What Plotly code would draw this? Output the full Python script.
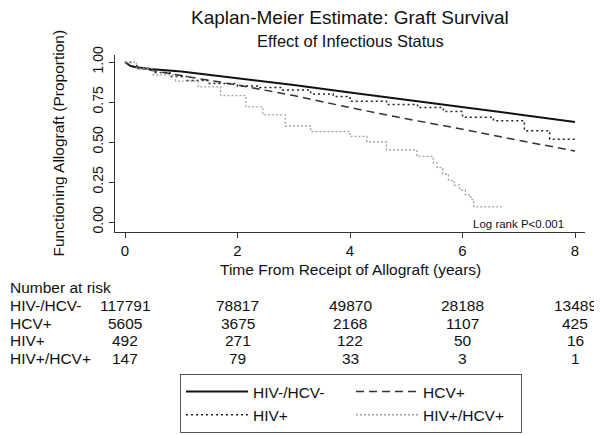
import plotly.graph_objects as go

# ---- data ----
groups = ["HIV-/HCV-", "HCV+", "HIV+", "HIV+/HCV+"]

t_neg = [0, 0.05, 0.1, 0.2, 0.5, 1, 2, 3, 4, 5, 6, 7, 8]
s_neg = [1.0, 0.985, 0.975, 0.967, 0.955, 0.94, 0.90, 0.856, 0.81, 0.765, 0.718, 0.672, 0.625]

t_hcv = [0, 0.1, 0.25, 0.5, 1, 1.5, 2, 3, 4, 5, 6, 7, 8]
s_hcv = [1.0, 0.975, 0.962, 0.945, 0.915, 0.885, 0.856, 0.79, 0.715, 0.645, 0.58, 0.51, 0.444]

t_hiv = [0, 0.1, 0.25, 0.5, 0.8, 1.1, 1.5, 2.0, 2.4, 2.8, 3.3, 3.7, 4.0, 4.65, 5.2, 5.66, 6.0, 6.55, 7.1, 7.55, 8.0]
s_hiv = [1.0, 0.975, 0.958, 0.935, 0.91, 0.885, 0.865, 0.85, 0.84, 0.825, 0.80, 0.785, 0.755, 0.735, 0.715, 0.69, 0.655, 0.633, 0.57, 0.517, 0.517]

t_coinf = [0, 0.2, 0.5, 0.9, 1.3, 1.7, 2.15, 2.45, 2.85, 3.3, 4.0, 4.3, 4.65, 5.19, 5.48, 5.55, 5.65, 5.75, 5.85, 5.95, 6.05, 6.15, 6.2, 6.7]
s_coinf = [1.0, 0.96, 0.92, 0.88, 0.845, 0.79, 0.72, 0.67, 0.60, 0.565, 0.535, 0.50, 0.45, 0.41, 0.37, 0.34, 0.30, 0.26, 0.23, 0.20, 0.17, 0.14, 0.095, 0.095]

risk_times = [0, 2, 4, 6, 8]
risk_neg = [117791, 78817, 49870, 28188, 13489]
risk_hcv = [5605, 3675, 2168, 1107, 425]
risk_hiv = [492, 271, 122, 50, 16]
risk_coinf = [147, 79, 33, 3, 1]

x_ticks = [0, 2, 4, 6, 8]
y_ticks = [0, 0.25, 0.5, 0.75, 1.0]
y_ticktext = ["0.00", "0.25", "0.50", "0.75", "1.00"]

title = "Kaplan-Meier Estimate: Graft Survival"
subtitle = "Effect of Infectious Status"
x_title = "Time From Receipt of Allograft (years)"
y_title = "Functioning Allograft (Proportion)"
note = "Log rank P<0.001"

# ---- figure ----
# The page body adds an 8px margin, so the figure is 8px smaller than the window
FONT = "Liberation Sans, Arial, Helvetica, sans-serif"
OFF = 8
W, H = 602 - OFF, 435 - OFF
PLOT_L, PLOT_R, PLOT_T, PLOT_B = 115, 585, 55, 232   # page pixels
L, T = PLOT_L - OFF, PLOT_T - OFF
R, B = W - (PLOT_R - OFF), H - (PLOT_B - OFF)


def py(pix):
    """page pixel row -> paper y"""
    return (PLOT_B - pix) / (PLOT_B - PLOT_T)


def px(pix):
    """page pixel column -> paper x"""
    return (pix - PLOT_L) / (PLOT_R - PLOT_L)


fig = go.Figure()

series = [
    (t_neg, s_neg, groups[0], dict(color="#111111", width=2.0), "linear"),
    (t_hcv, s_hcv, groups[1], dict(color="#333333", width=1.5, dash="8px,5px"), "linear"),
    (t_hiv, s_hiv, groups[2], dict(color="#222222", width=1.5, dash="2px,3px"), "hv"),
    (t_coinf, s_coinf, groups[3], dict(color="#a0a0a0", width=1.3, dash="2px,2px"), "hv"),
]
for t, s, name, line, shape in series:
    line = dict(line)
    line["shape"] = shape
    fig.add_trace(go.Scatter(x=t, y=s, mode="lines", name=name, line=line))

ann = []
ann.append(dict(text=title, x=0.5, y=py(17), xref="paper", yref="paper",
                showarrow=False, font=dict(size=19), xanchor="center", yanchor="middle"))
ann.append(dict(text=subtitle, x=0.5, y=py(41), xref="paper", yref="paper",
                showarrow=False, font=dict(size=16.5), xanchor="center", yanchor="middle"))
ann.append(dict(text=x_title, x=0.5, y=py(269), xref="paper", yref="paper",
                showarrow=False, font=dict(size=15.5), xanchor="center", yanchor="middle"))
ann.append(dict(text=y_title, x=px(58), y=0.5, xref="paper", yref="paper", textangle=-90,
                showarrow=False, font=dict(size=15.5), xanchor="center", yanchor="middle"))
ann.append(dict(text=note, x=px(566), y=py(224), xref="paper", yref="paper",
                showarrow=False, font=dict(size=11.5), xanchor="right", yanchor="middle"))

ann.append(dict(text="Number at risk", x=px(8), y=py(287.5), xref="paper", yref="paper",
                showarrow=False, font=dict(size=15.5), xanchor="left", yanchor="middle"))
rows = [risk_neg, risk_hcv, risk_hiv, risk_coinf]
row_y = [305.5, 323, 340.5, 358]
for name, vals, ry in zip(groups, rows, row_y):
    ann.append(dict(text=name, x=px(8), y=py(ry), xref="paper", yref="paper",
                    showarrow=False, font=dict(size=15.5), xanchor="left", yanchor="middle"))
    for tt, v in zip(risk_times, vals):
        ann.append(dict(text=str(v), x=tt, y=py(ry), xref="x", yref="paper",
                        showarrow=False, font=dict(size=15.5), xanchor="center", yanchor="middle"))

fig.update_layout(
    width=W, height=H,
    margin=dict(l=L, r=R, t=T, b=B, pad=0, autoexpand=False),
    paper_bgcolor="white", plot_bgcolor="white",
    font=dict(family=FONT, color="#111111", size=15),
    annotations=ann,
    showlegend=True,
    legend=dict(
        orientation="h", x=px(180), y=py(374), xanchor="left", yanchor="top",
        xref="paper", yref="paper",
        bordercolor="#555555", borderwidth=1, bgcolor="white",
        font=dict(size=15.5), itemwidth=62, entrywidth=93, traceorder="normal",
        itemclick=False,
    ),
)

fig.update_xaxes(
    range=[-10 / 56.25, 8 + 10 / 56.25], tickvals=x_ticks, ticktext=[str(v) for v in x_ticks],
    showline=True, linecolor="#333333", linewidth=1, ticks="outside", ticklen=5,
    tickcolor="#333333", showgrid=False, zeroline=False, tickfont=dict(size=15),
    ticklabelstandoff=0, fixedrange=True,
)
fig.update_yaxes(
    range=[-10 / 160, 1 + 7 / 160], tickvals=y_ticks, ticktext=y_ticktext, tickangle=-90,
    showline=True, linecolor="#333333", linewidth=1, ticks="outside", ticklen=5,
    tickcolor="#333333", showgrid=False, zeroline=False, tickfont=dict(size=14),
    fixedrange=True,
)

fig.write_html("out.html")
